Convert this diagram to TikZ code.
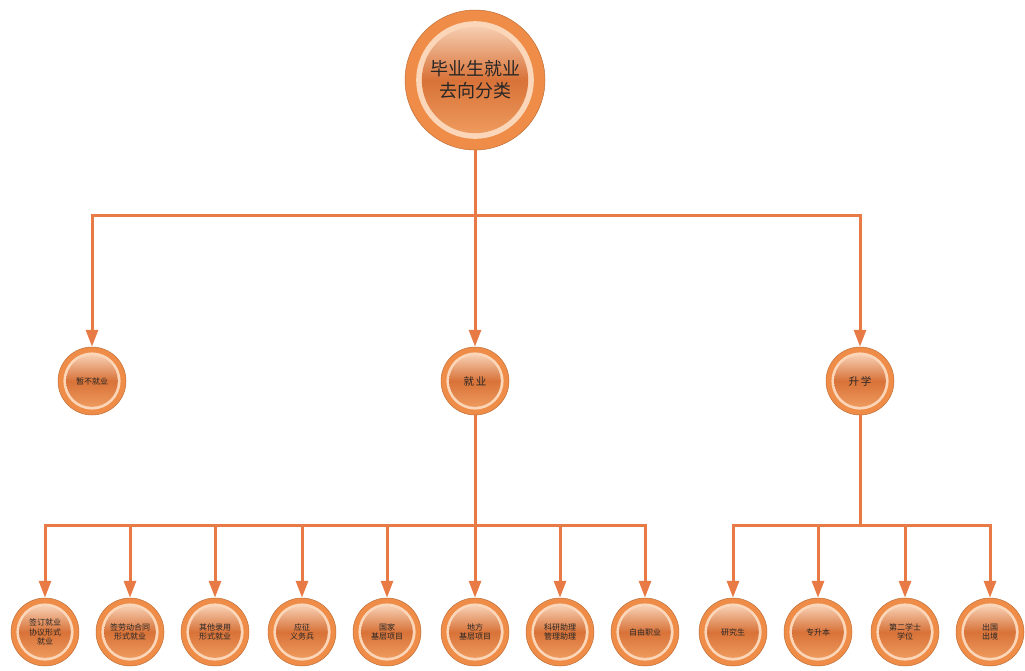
\documentclass[tikz,border=0pt]{standalone}
\usepackage{fontspec}
\newfontfamily\cjk{Noto Sans CJK SC}
\usetikzlibrary{positioning,arrows.meta,calc}
\definecolor{lineorange}{HTML}{E87A45}
\definecolor{ringorange}{HTML}{EE8C48}
\definecolor{glowlight}{HTML}{FBD6B8}
\definecolor{coretop}{HTML}{F6CDB0}
\definecolor{coremid}{HTML}{D87238}
\definecolor{corebot}{HTML}{EE9A5E}
\tikzset{
  bubble/.style={circle, inner sep=0pt, minimum size=#1, fill=ringorange,
    draw=ringorange!80!black, line width=0.5pt, align=center, font=\cjk, text=black!85,
    path picture={
      \fill[glowlight] (path picture bounding box.center) circle[radius=0.42*#1];
      \shade[top color=coretop, bottom color=corebot, middle color=coremid]
        (path picture bounding box.center) circle[radius=0.38*#1];
    }},
  small/.style={bubble=68pt, font=\cjk\fontsize{8}{9.5}\selectfont},
  link/.style={draw=lineorange, line width=3pt},
  arrow/.style={link, -{Triangle[width=12pt,length=17pt]}},
}
\begin{document}
\begin{tikzpicture}[x=1pt, y=-1pt]
  \useasboundingbox (0,0) rectangle (1025,670);
  % root and second level
  \node[bubble=140pt, font=\cjk\fontsize{18}{22}\selectfont] (root) at (475,80) {毕业生就业\\去向分类};
  \node[small] (wait) at (92,381) {暂不就业};
  \node[small, font=\cjk\fontsize{10.5}{12}\selectfont] (job) at (475,381) {就\,业};
  \node[small, font=\cjk\fontsize{10.5}{12}\selectfont] (study) at (860,381) {升\,学};
  \coordinate (bus1) at (475,215);
  \coordinate (bus2) at (475,525);
  \coordinate (bus3) at (860,525);
  \draw[link] (root) -- (bus1);
  \draw[arrow] (bus1) -| (wait);
  \draw[arrow] (bus1) -- (job);
  \draw[arrow] (bus1) -| (study);
  % third level
  \foreach \x/\t/\n in {45/{签订就业\\协议形式\\就业}/j1, 130/{签劳动合同\\形式就业}/j2,
      215/{其他录用\\形式就业}/j3, 302/{应征\\义务兵}/j4, 387/{国家\\基层项目}/j5,
      475/{地方\\基层项目}/j6, 560/{科研助理\\管理助理}/j7, 645/{自由职业}/j8} {
    \node[small] (\n) at (\x,632) {\t};
    \draw[arrow] (bus2) -| (\n);
  };
  \foreach \x/\t/\n in {733/{研究生}/s1, 818/{专升本}/s2, 905/{第二学士\\学位}/s3, 990/{出国\\出境}/s4} {
    \node[small] (\n) at (\x,632) {\t};
    \draw[arrow] (bus3) -| (\n);
  };
  \draw[link] (job) -- (bus2);
  \draw[link] (study) -- (bus3);
\end{tikzpicture}
\end{document}
